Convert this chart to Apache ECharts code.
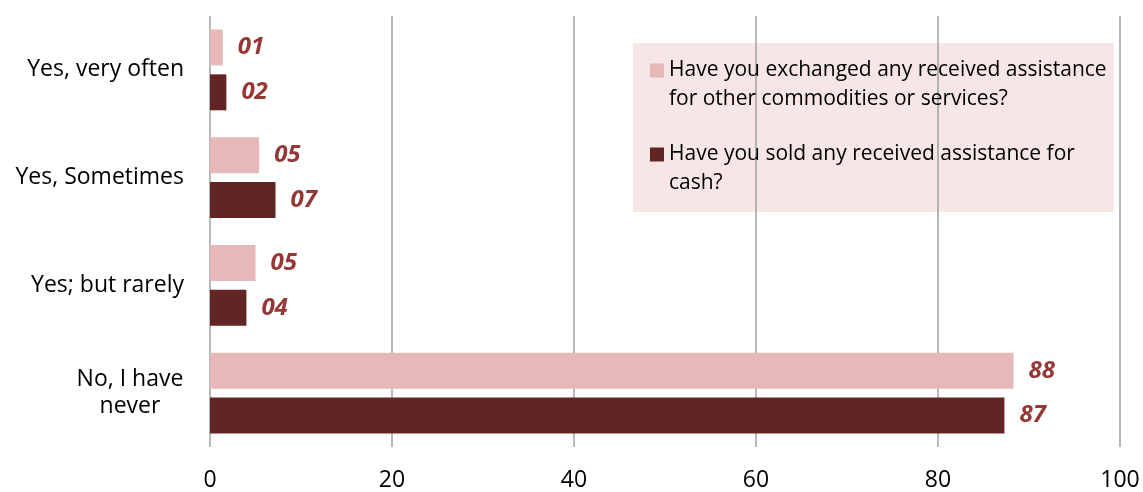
<!DOCTYPE html>
<html>
<head>
<meta charset="utf-8">
<script src="https://cdn.jsdelivr.net/npm/echarts@6/dist/echarts.min.js"></script>
<style>html,body{margin:0;padding:0;background:#fff}#c{width:1143px;height:492px}</style>
</head>
<body>
<div id="c"></div>
<script>
const categories = ['Yes, very often', 'Yes, Sometimes', 'Yes; but rarely', 'No, I have\nnever'];
const exchangedName = 'Have you exchanged any received assistance\nfor other commodities or services?';
const soldName = 'Have you sold any received assistance for\ncash?';
const exchanged = [1.4, 5.4, 5.0, 88.3];
const sold = [1.8, 7.2, 4.0, 87.3];
const xTicks = [0, 20, 40, 60, 80, 100];

const FONT = 'Open Sans';
const chart = echarts.init(document.getElementById('c'));
const lbl = {
  show: true, position: 'right', distance: 15,
  color: '#953735', fontFamily: FONT, fontSize: 24, fontWeight: 'bold', fontStyle: 'italic',
  formatter: p => String(Math.round(p.value)).padStart(2, '0')
};
chart.setOption({
  animation: false,
  textStyle: { fontFamily: FONT },
  grid: { left: 210, right: 23, top: 16, bottom: 44, containLabel: false },
  graphic: { elements: [{ type: 'rect', left: 633, top: 43, z: -10, shape: { width: 481, height: 169 }, style: { fill: '#f6e6e6' } }] },
  legend: {
    orient: 'vertical', left: 650, top: 27, padding: 0, itemWidth: 14, itemHeight: 14, itemGap: -3,
    icon: 'rect',
    formatter: n => ' \n' + n,
    textStyle: { fontFamily: FONT, fontSize: 21, color: '#000', lineHeight: 29 },
    data: [exchangedName, soldName]
  },
  xAxis: {
    type: 'value', min: 0, max: 100, interval: 20,
    axisLine: { show: false }, axisTick: { show: false },
    splitLine: { show: true, lineStyle: { color: '#a0a0a0', width: 1.5 } },
    axisLabel: { fontFamily: FONT, fontSize: 23, color: '#000', margin: 22, formatter: v => xTicks.includes(v) ? String(v) : '' }
  },
  yAxis: {
    type: 'category', data: categories, inverse: true,
    axisLine: { show: false }, axisTick: { show: false },
    axisLabel: {
      fontFamily: FONT, fontSize: 23, color: '#000', margin: 26, lineHeight: 27,
      formatter: v => v.indexOf('\n') >= 0 ? v.split('\n').map(s => '{c|' + s + '}').join('\n') : v,
      rich: { c: { width: 108, align: 'center', fontFamily: FONT, fontSize: 23, lineHeight: 27, color: '#000' } }
    }
  },
  series: [
    { name: exchangedName, type: 'bar', data: exchanged, barGap: '25%', barCategoryGap: '25%', itemStyle: { color: '#e6b9b8' }, label: lbl },
    { name: soldName, type: 'bar', data: sold, barGap: '25%', barCategoryGap: '25%', itemStyle: { color: '#632523' }, label: lbl }
  ]
});
</script>
</body>
</html>
